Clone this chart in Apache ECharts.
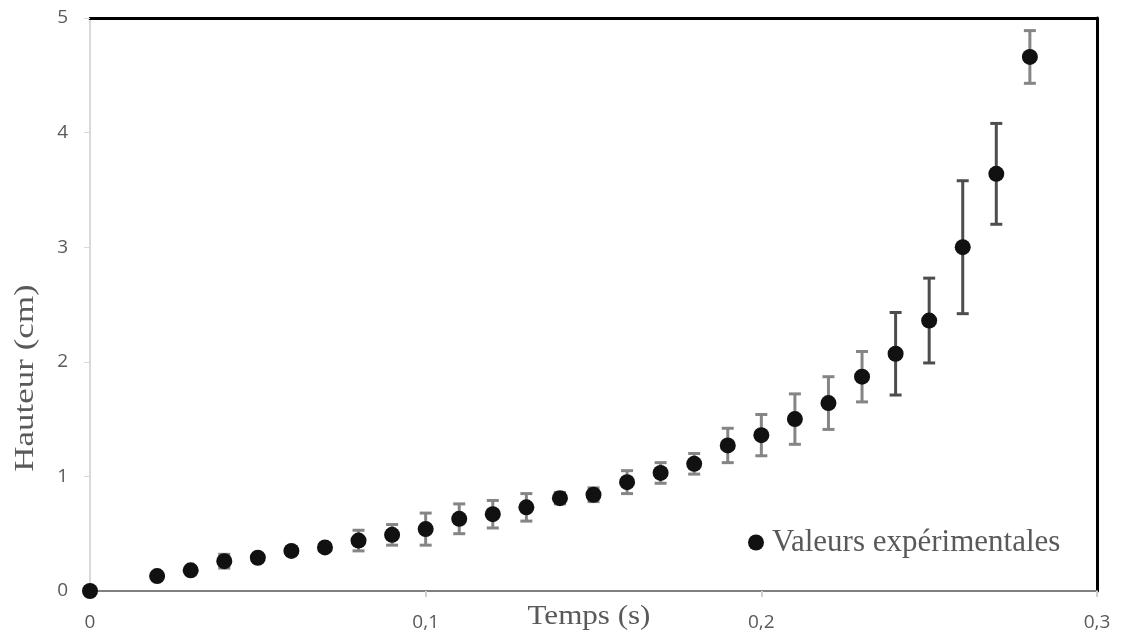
<!DOCTYPE html>
<html>
<head>
<meta charset="utf-8">
<script src="https://cdn.jsdelivr.net/npm/echarts@6/dist/echarts.min.js"></script>
<style>
  html, body { margin: 0; padding: 0; background: #fff; }
  #chart { width: 1122px; height: 644px; }
</style>
</head>
<body>
<div id="chart"></div>
<script>
const times   = [0, 0.02, 0.03, 0.04, 0.05, 0.06, 0.07, 0.08, 0.09, 0.10, 0.11, 0.12, 0.13, 0.14,
                 0.15, 0.16, 0.17, 0.18, 0.19, 0.20, 0.21, 0.22, 0.23, 0.24, 0.25, 0.26, 0.27, 0.28];
const heights = [0, 0.13, 0.18, 0.26, 0.29, 0.35, 0.38, 0.44, 0.49, 0.54, 0.63, 0.67, 0.73, 0.81,
                 0.84, 0.95, 1.03, 1.11, 1.27, 1.36, 1.50, 1.64, 1.87, 2.07, 2.36, 3.00, 3.64, 4.66];
const errors  = [0, 0, 0.02, 0.06, 0.02, 0.03, 0.03, 0.09, 0.09, 0.14, 0.13, 0.12, 0.12, 0.05,
                 0.06, 0.10, 0.09, 0.09, 0.15, 0.18, 0.22, 0.23, 0.22, 0.36, 0.37, 0.58, 0.44, 0.23];
const xTicks = [0, 0.1, 0.2, 0.3];
const yTicks = [0, 1, 2, 3, 4, 5];

const chart = echarts.init(document.getElementById("chart"));

const points = times.map((t, i) => [t, heights[i]]);
const bars = times.map((t, i) => [t, heights[i] - errors[i], heights[i] + errors[i], errors[i]]);

const grey = "#595959";

// cadre noir en haut et à droite (axes secondaires sans étiquettes)
const frameAxis = {
  type: "value",
  axisLine: { show: true, onZero: false, lineStyle: { color: "#000", width: 3 } },
  axisTick: { show: false }, axisLabel: { show: false }, splitLine: { show: false }
};

chart.setOption({
  animation: false,
  grid: { left: 90, right: 25, top: 18, bottom: 53 },
  legend: {
    left: 743, top: 522,
    icon: "circle", itemWidth: 16, itemHeight: 16, itemGap: 4,
    textStyle: { fontFamily: "Liberation Serif", fontSize: 31, color: grey, padding: [0, 0, 0, 3] },
    data: ["Valeurs expérimentales"]
  },
  xAxis: [{
    type: "value", min: 0, max: 0.3, interval: 0.1,
    axisLine: { onZero: false, lineStyle: { color: "#808080", width: 2 } },
    axisTick: { show: true, length: 6, lineStyle: { color: "#d0d0d0", width: 2 } },
    splitLine: { show: false },
    axisLabel: {
      margin: 22, color: grey, fontFamily: "Open Sans", fontSize: 19,
      formatter: v => xTicks.includes(+v.toFixed(2)) ? String(+v.toFixed(1)).replace(".", ",") : ""
    }
  }, Object.assign({ position: "top", min: 0, max: 0.3 }, frameAxis)],
  yAxis: [{
    type: "value", min: 0, max: 5, interval: 1,
    axisLine: { show: true, onZero: false, lineStyle: { color: "#d9d9d9", width: 2 } },
    axisTick: { show: true, length: 6, lineStyle: { color: "#d9d9d9", width: 1 } },
    splitLine: { show: false },
    axisLabel: {
      margin: 22, color: grey, fontFamily: "Open Sans", fontSize: 19,
      formatter: v => yTicks.includes(v) ? String(v) : ""
    }
  }, Object.assign({ position: "right", min: 0, max: 5 }, frameAxis)],
  graphic: [
    { type: "text", x: 26, y: 378, rotation: Math.PI / 2, scaleX: 1.25,
      style: { text: "Hauteur (cm)", fill: grey, font: "28px 'Liberation Serif'",
               textAlign: "center", textVerticalAlign: "middle" } },
    { type: "text", x: 589, y: 617, scaleX: 1.15,
      style: { text: "Temps (s)", fill: grey, font: "27px 'Liberation Serif'",
               textAlign: "center", textVerticalAlign: "middle" } }
  ],
  series: [{
    name: "errors",
    type: "custom",
    silent: true,
    data: bars,
    z: 2,
    renderItem: (params, api) => {
      if (api.value(3) <= 0) return null;
      const top = api.coord([api.value(0), api.value(2)]);
      const bot = api.coord([api.value(0), api.value(1)]);
      const w = 6;
      const c = api.value(3) > 0.3 ? "#4d4d4d" : "#858585";
      const st = { stroke: c, lineWidth: 3 };
      return {
        type: "group",
        children: [
          { type: "line", shape: { x1: top[0], y1: top[1], x2: bot[0], y2: bot[1] }, style: st },
          { type: "line", shape: { x1: top[0] - w, y1: top[1], x2: top[0] + w, y2: top[1] }, style: st },
          { type: "line", shape: { x1: bot[0] - w, y1: bot[1], x2: bot[0] + w, y2: bot[1] }, style: st }
        ]
      };
    }
  }, {
    name: "Valeurs expérimentales",
    type: "scatter",
    data: points,
    symbol: "circle",
    symbolSize: 16,
    z: 3,
    itemStyle: { color: "#111", opacity: 1 }
  }]
});
</script>
</body>
</html>
